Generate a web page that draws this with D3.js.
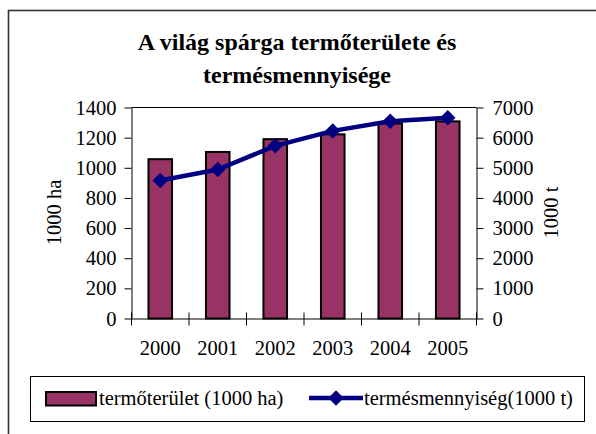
<!DOCTYPE html>
<html>
<head>
<meta charset="utf-8">
<script src="https://cdn.jsdelivr.net/npm/d3@7"></script>
<style>
html,body{margin:0;padding:0;background:#fff;}
svg{display:block;}
</style>
</head>
<body>
<svg id="chart" width="596" height="434"></svg>
<script>
const years = ["2000","2001","2002","2003","2004","2005"];
const area = [1057, 1105, 1190, 1222, 1294, 1308];          // termőterület (1000 ha)
const production = [4580, 4943, 5727, 6224, 6546, 6656];    // termésmennyiség (1000 t)
const leftTicks = [0,200,400,600,800,1000,1200,1400];
const rightTicks = [0,1000,2000,3000,4000,5000,6000,7000];
const titleLines = ["A világ spárga termőterülete és","termésmennyisége"];
const seriesNames = ["termőterület (1000 ha)","termésmennyiség(1000 t)"];
const axisTitles = ["1000 ha","1000 t"];

const FONT = "'Liberation Serif','Times New Roman',serif";
const svg = d3.select("#chart");
const barColor = "#993366", lineColor = "#000080";
const fs = 20.5;

// outer frame
svg.append("rect").attr("x",8.5).attr("y",10.5).attr("width",600).attr("height",440)
  .attr("fill","none").attr("stroke","#333").attr("stroke-width",1.6);

// title
svg.append("g").selectAll("text").data(titleLines).join("text")
  .attr("x",297).attr("y",(d,i)=>50+i*33)
  .attr("text-anchor","middle").style("font-weight","bold").style("font-size","24px")
  .style("font-family",FONT)
  .text(d=>d);

const L = 131.5, R = 476.5, T = 107.5, B = 318.5;
const x = d3.scaleBand().domain(years).range([L,R]).padding(0);
const yL = d3.scaleLinear().domain([0,1400]).range([B,T]);
const yR = d3.scaleLinear().domain([0,7000]).range([B,T]);

// plot frame top line
svg.append("line").attr("x1",L).attr("x2",R).attr("y1",T).attr("y2",T).attr("stroke","#000").attr("stroke-width",1);

// bars
const bw = x.bandwidth()*0.41;
svg.append("g").selectAll("rect").data(years).join("rect")
  .attr("x",d=>x(d)+x.bandwidth()/2-bw/2)
  .attr("y",(d,i)=>yL(area[i]))
  .attr("width",bw)
  .attr("height",(d,i)=>B-yL(area[i]))
  .attr("fill",barColor).attr("stroke","#000").attr("stroke-width",2);

function styleText(sel){
  sel.selectAll("text").style("font-family",FONT).style("font-size",fs+"px").attr("fill","#000");
}

// left axis
const gL = svg.append("g").attr("transform",`translate(${L},0)`)
  .call(d3.axisLeft(yL).tickValues(leftTicks).tickFormat(d3.format("d")).tickSize(7).tickSizeOuter(0).tickPadding(8));
styleText(gL);

// right axis
const gR = svg.append("g").attr("transform",`translate(${R},0)`)
  .call(d3.axisRight(yR).tickValues(rightTicks).tickFormat(d3.format("d")).tickSize(7).tickSizeOuter(0).tickPadding(9));
styleText(gR);

// bottom axis: labels at band centers
const gB = svg.append("g").attr("transform",`translate(0,${B})`)
  .call(d3.axisBottom(x).tickSize(0).tickPadding(36));
styleText(gB);
gB.selectAll("text").attr("dy","0");
// crossing tick marks at band boundaries
const bounds = years.map(d=>x(d)).concat([x(years[years.length-1])+x.bandwidth()]);
svg.append("g").selectAll("line").data(bounds).join("line")
  .attr("x1",d=>d).attr("x2",d=>d).attr("y1",B-6).attr("y2",B+7)
  .attr("stroke","#000").attr("stroke-width",1);

// line series
const line = d3.line().x((d,i)=>x(years[i])+x.bandwidth()/2).y(d=>yR(d));
svg.append("path").datum(production).attr("d",line)
  .attr("fill","none").attr("stroke",lineColor).attr("stroke-width",4.5).attr("stroke-linejoin","round");
svg.append("g").selectAll("path").data(production).join("path")
  .attr("d",d3.symbol().type(d3.symbolSquare).size(120))
  .attr("transform",(d,i)=>`translate(${x(years[i])+x.bandwidth()/2},${yR(d)}) rotate(45)`)
  .attr("fill",lineColor);

// axis titles
svg.append("text").attr("transform",`translate(61,212.5) rotate(-90)`)
  .attr("text-anchor","middle").style("font-size",fs+"px").style("font-family",FONT).text(axisTitles[0]);
svg.append("text").attr("transform",`translate(558,212.5) rotate(-90)`)
  .attr("text-anchor","middle").style("font-size",fs+"px").style("font-family",FONT).text(axisTitles[1]);

// legend
svg.append("rect").attr("x",30.5).attr("y",376.5).attr("width",554).attr("height",45)
  .attr("fill","#fff").attr("stroke","#000").attr("stroke-width",1);
svg.append("rect").attr("x",46).attr("y",392).attr("width",50).attr("height",13.5)
  .attr("fill",barColor).attr("stroke","#000").attr("stroke-width",2);
svg.append("text").attr("x",99).attr("y",405).style("font-size",fs+"px").style("font-family",FONT).text(seriesNames[0]);
svg.append("line").attr("x1",309).attr("x2",363).attr("y1",398).attr("y2",398)
  .attr("stroke",lineColor).attr("stroke-width",4.5);
svg.append("path").attr("d",d3.symbol().type(d3.symbolSquare).size(120))
  .attr("transform","translate(336,398) rotate(45)").attr("fill",lineColor);
svg.append("text").attr("x",364).attr("y",405).style("font-size",fs+"px").style("font-family",FONT).text(seriesNames[1]);
</script>
</body>
</html>
